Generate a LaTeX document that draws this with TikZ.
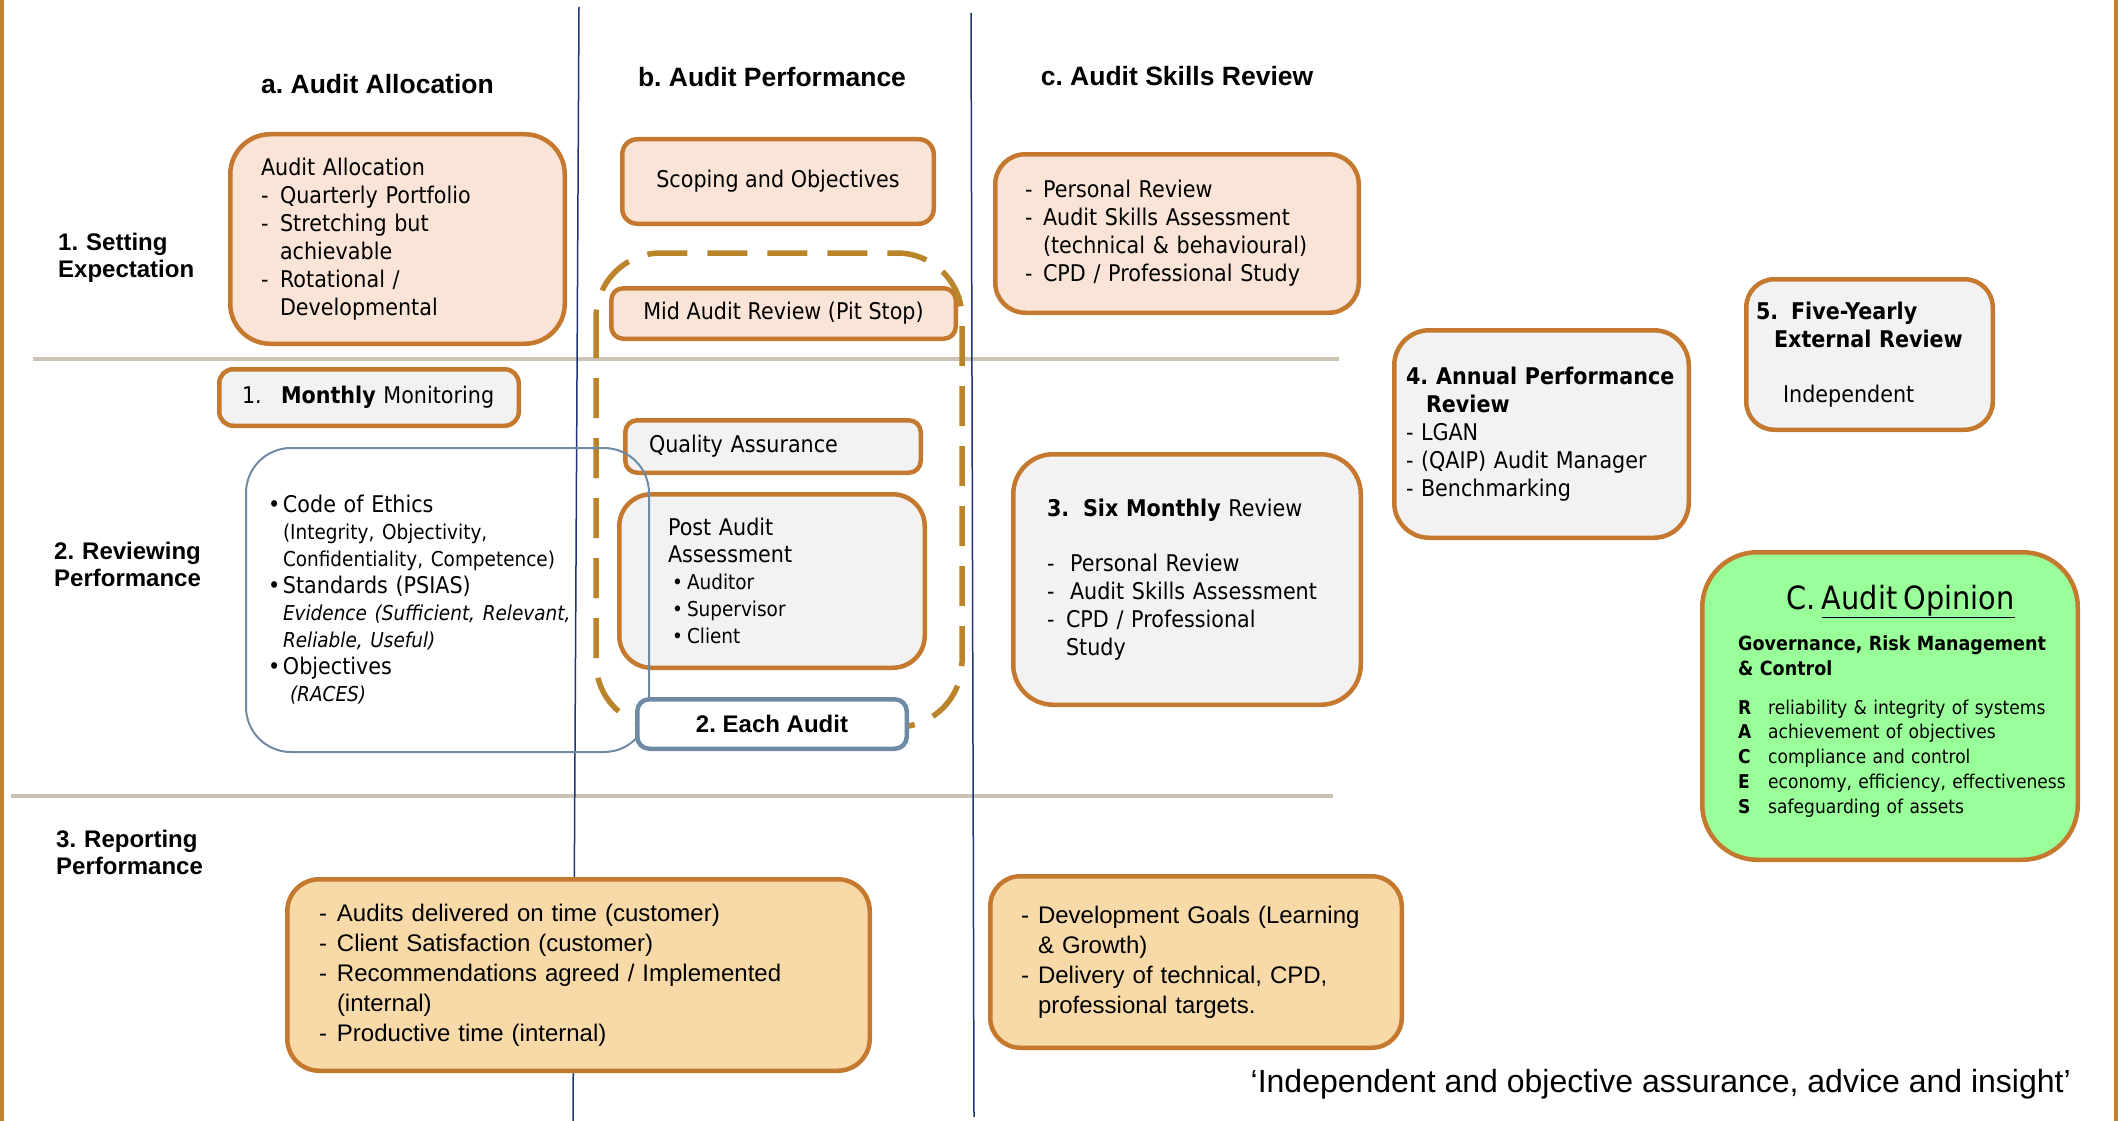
\documentclass[tikz,border=0pt]{standalone}
\usepackage{fontspec}
\setmainfont{Liberation Sans}
\newfontfamily\boxfont[FakeStretch=0.9]{DejaVu Sans}
\frenchspacing

\definecolor{boxorange}{RGB}{196,121,46}
\definecolor{dashgold}{RGB}{186,133,42}
\definecolor{framegold}{RGB}{192,128,44}
\definecolor{peachfill}{RGB}{249,228,215}
\definecolor{greyfill}{RGB}{242,242,242}
\definecolor{tanfill}{RGB}{248,217,168}
\definecolor{opiniongreen}{RGB}{153,255,153}
\definecolor{steelblue}{RGB}{110,138,164}
\definecolor{navyline}{RGB}{30,52,120}
\definecolor{rulegrey}{RGB}{203,196,180}

\newcommand{\dsh}[1][18pt]{\makebox[#1][l]{-}}
\newcommand{\blt}[1][15pt]{\makebox[#1][l]{•}}
\newcommand{\subtxt}{\fontsize{20.5}{27}\selectfont}

\begin{document}
\begin{tikzpicture}[
     x = 1pt, y = -1pt, % one unit per pixel, y runs down
     line join = round
 ]

 \tikzstyle{obox} = [
     draw = boxorange,
     line width = 4.5pt,
     inner sep = 0pt,
     align = left,
     font = \boxfont\fontsize{23}{28}\selectfont
 ]
 \tikzstyle{peachbox} = [obox, fill = peachfill]
 \tikzstyle{greybox} = [obox, fill = greyfill]
 \tikzstyle{tanbox} = [obox, fill = tanfill, font = \fontsize{24}{30}\selectfont]
 \tikzstyle{header} = [anchor = base, font = \bfseries\fontsize{26.5}{30}\selectfont]
 \tikzstyle{rowlabel} = [
     anchor = base west,
     align = left,
     text width = 170pt,
     inner sep = 0pt,
     font = \bfseries\fontsize{24}{27}\selectfont
 ]
 \tikzstyle{rowline} = [rulegrey, line width = 4pt]
 \tikzstyle{colline} = [navyline, line width = 1.5pt]

 \useasboundingbox (0,0) rectangle (2122,1121);

 % frame and grid
 \draw[framegold, line width = 3.5pt] (1.75,0) -- (1.75,1121);
 \draw[framegold, line width = 3.5pt] (2116,0) -- (2116,1121);
 \draw[rowline] (33,359) -- (1339,359);
 \draw[rowline] (11,796) -- (1333,796);
 \draw[colline] (579,7) -- (573,1121);
 \draw[colline] (971,13) -- (974,1117);

 % column and row titles
 \node[header] (colalloc) at (377.5,94) {a. Audit Allocation};
 \node[header] (colperf) at (772,87) {b. Audit Performance};
 \node[header] (colskills) at (1177,86) {c. Audit Skills Review};

 \node[rowlabel] (rowsetting) at (58,250) {1. Setting\\Expectation};
 \node[rowlabel] (rowreview) at (54,559) {2. Reviewing\\Performance};
 \node[rowlabel] (rowreport) at (56,847) {3. Reporting\\Performance};

 % a. allocation
 \node[peachbox, rounded corners = 40pt, minimum width = 334.5pt, minimum height = 209.5pt, text width = 273pt]
     (alloc) at (397.5,239) {Audit Allocation\\ \dsh[19pt]Quarterly Portfolio\\ \dsh[19pt]Stretching but\\
     \hspace*{19pt}achievable\\ \dsh[19pt]Rotational /\\ \hspace*{19pt}Developmental};
 \node[greybox, rounded corners = 14pt, minimum width = 299.5pt, minimum height = 56.5pt, text width = 254pt]
     (monthly) at (369,397.5) {\makebox[39pt][l]{1.}\textbf{Monthly} Monitoring};

 % b. performance
 \node[peachbox, rounded corners = 15pt, minimum width = 311.5pt, minimum height = 84.5pt, align = center]
     (scope) at (778,181.5) {Scoping and Objectives};
 \node[peachbox, rounded corners = 12pt, minimum width = 344.5pt, minimum height = 50.5pt, align = center]
     (midreview) at (783.5,313.5) {Mid Audit Review (Pit Stop)};
 \node[greybox, rounded corners = 12pt, minimum width = 295.5pt, minimum height = 52.5pt, text width = 248pt]
     (qa) at (773,446.5) {Quality Assurance};
 \node[greybox, rounded corners = 32pt, minimum width = 305.5pt, minimum height = 173.5pt, text width = 208pt,
     font = \boxfont\fontsize{23}{27}\selectfont]
     (post) at (772,581) {Post Audit\\Assessment\\ \hspace*{4pt}{\subtxt\blt Auditor}\\
     \hspace*{4pt}{\subtxt\blt Supervisor}\\ \hspace*{4pt}{\subtxt\blt Client}};

 \draw[dashgold, line width = 5.5pt, dash pattern = on 40pt off 20pt, rounded corners = 65pt]
     (596,253) rectangle (962,727);

 \node[draw = steelblue, line width = 2pt, rounded corners = 45pt, minimum width = 403pt, minimum height = 304pt,
     inner sep = 0pt, text width = 359pt, align = left, font = \boxfont\fontsize{23}{27}\selectfont]
     (ethics) at (447.5,600) {\blt Code of Ethics\\
     \hspace*{15pt}{\subtxt (Integrity, Objectivity,}\\
     \hspace*{15pt}{\subtxt Confidentiality, Competence)}\\
     \blt Standards (PSIAS)\\
     \hspace*{15pt}{\subtxt\itshape Evidence (Sufficient, Relevant,}\\
     \hspace*{15pt}{\subtxt\itshape Reliable, Useful)}\\
     \blt Objectives\\
     \hspace*{22pt}{\subtxt\itshape (RACES)}};

 \node[draw = steelblue, line width = 4.5pt, fill = white, rounded corners = 12pt, minimum width = 269.5pt,
     minimum height = 49.5pt, font = \bfseries\fontsize{24}{28}\selectfont]
     (each) at (772,724) {2. Each Audit};

 % c. skills review
 \node[peachbox, rounded corners = 30pt, minimum width = 363.5pt, minimum height = 158.5pt, text width = 304pt]
     (skills) at (1177,233.5) {\dsh Personal Review\\ \dsh Audit Skills Assessment\\
     \hspace*{18pt}(technical \& behavioural)\\ \dsh CPD / Professional Study};
 \node[greybox, rounded corners = 40pt, minimum width = 347.5pt, minimum height = 250.5pt, text width = 280pt]
     (sixmonth) at (1187,579.5) {\textbf{\makebox[36pt][l]{3.}Six Monthly} Review\\[27pt]
     \dsh[23pt]Personal Review\\ \dsh[23pt]Audit Skills Assessment\\ \dsh[19pt]CPD / Professional\\
     \hspace*{19pt}Study};
 \node[greybox, rounded corners = 35pt, minimum width = 294.5pt, minimum height = 207.5pt, text width = 271pt]
     (annual) at (1541.5,434) {\textbf{\makebox[30pt][l]{4.}Annual Performance}\\ \hspace*{20pt}\textbf{Review}\\
     \dsh[15pt]LGAN\\ \dsh[15pt](QAIP) Audit Manager\\ \dsh[15pt]Benchmarking};
 \node[greybox, rounded corners = 28pt, minimum width = 246.5pt, minimum height = 150.5pt, text width = 227pt]
     (fiveyear) at (1869.5,354.5) {\textbf{\makebox[35pt][l]{5.}Five-Yearly}\\ \hspace*{18pt}\textbf{External Review}\\[27pt]
     \hspace*{27pt}Independent};

 % C. opinion
 \node[obox, fill = opiniongreen, rounded corners = 55pt, minimum width = 375.5pt, minimum height = 307.5pt]
     (opinion) at (1890,706) {};
 \node[anchor = base west, inner sep = 0pt, text width = 330pt, align = left,
     font = \boxfont\fontsize{19}{24.75}\selectfont]
     (opiniontext) at (1738,609) {\hspace*{48pt}{\fontsize{32}{32}\selectfont C. \underline{Audit Opinion}}\\[16.5pt]
     {\bfseries\fontsize{19.5}{24.75}\selectfont Governance, Risk Management\\ \& Control}\\[14.25pt]
     \makebox[30pt][l]{\textbf{R}}reliability \& integrity of systems\\
     \makebox[30pt][l]{\textbf{A}}achievement of objectives\\
     \makebox[30pt][l]{\textbf{C}}compliance and control\\
     \makebox[30pt][l]{\textbf{E}}economy, efficiency, effectiveness\\
     \makebox[30pt][l]{\textbf{S}}safeguarding of assets};

 % 3. reporting
 \node[tanbox, rounded corners = 32pt, minimum width = 582.5pt, minimum height = 191.5pt, text width = 519pt]
     (reporting) at (578.5,975) {\dsh Audits delivered on time (customer)\\ \dsh Client Satisfaction (customer)\\
     \dsh Recommendations agreed / Implemented\\ \hspace*{18pt}(internal)\\ \dsh Productive time (internal)};
 \node[tanbox, rounded corners = 30pt, minimum width = 411.5pt, minimum height = 171.5pt, text width = 350pt]
     (goals) at (1196,962) {\dsh[17pt]Development Goals (Learning\\ \hspace*{17pt}\& Growth)\\
     \dsh[17pt]Delivery of technical, CPD,\\ \hspace*{17pt}professional targets.};

 \node[anchor = base east, inner sep = 0pt, font = \fontsize{32}{32}\selectfont]
     (motto) at (2071,1092) {‘Independent and objective assurance, advice and insight’};
\end{tikzpicture}
\end{document}
